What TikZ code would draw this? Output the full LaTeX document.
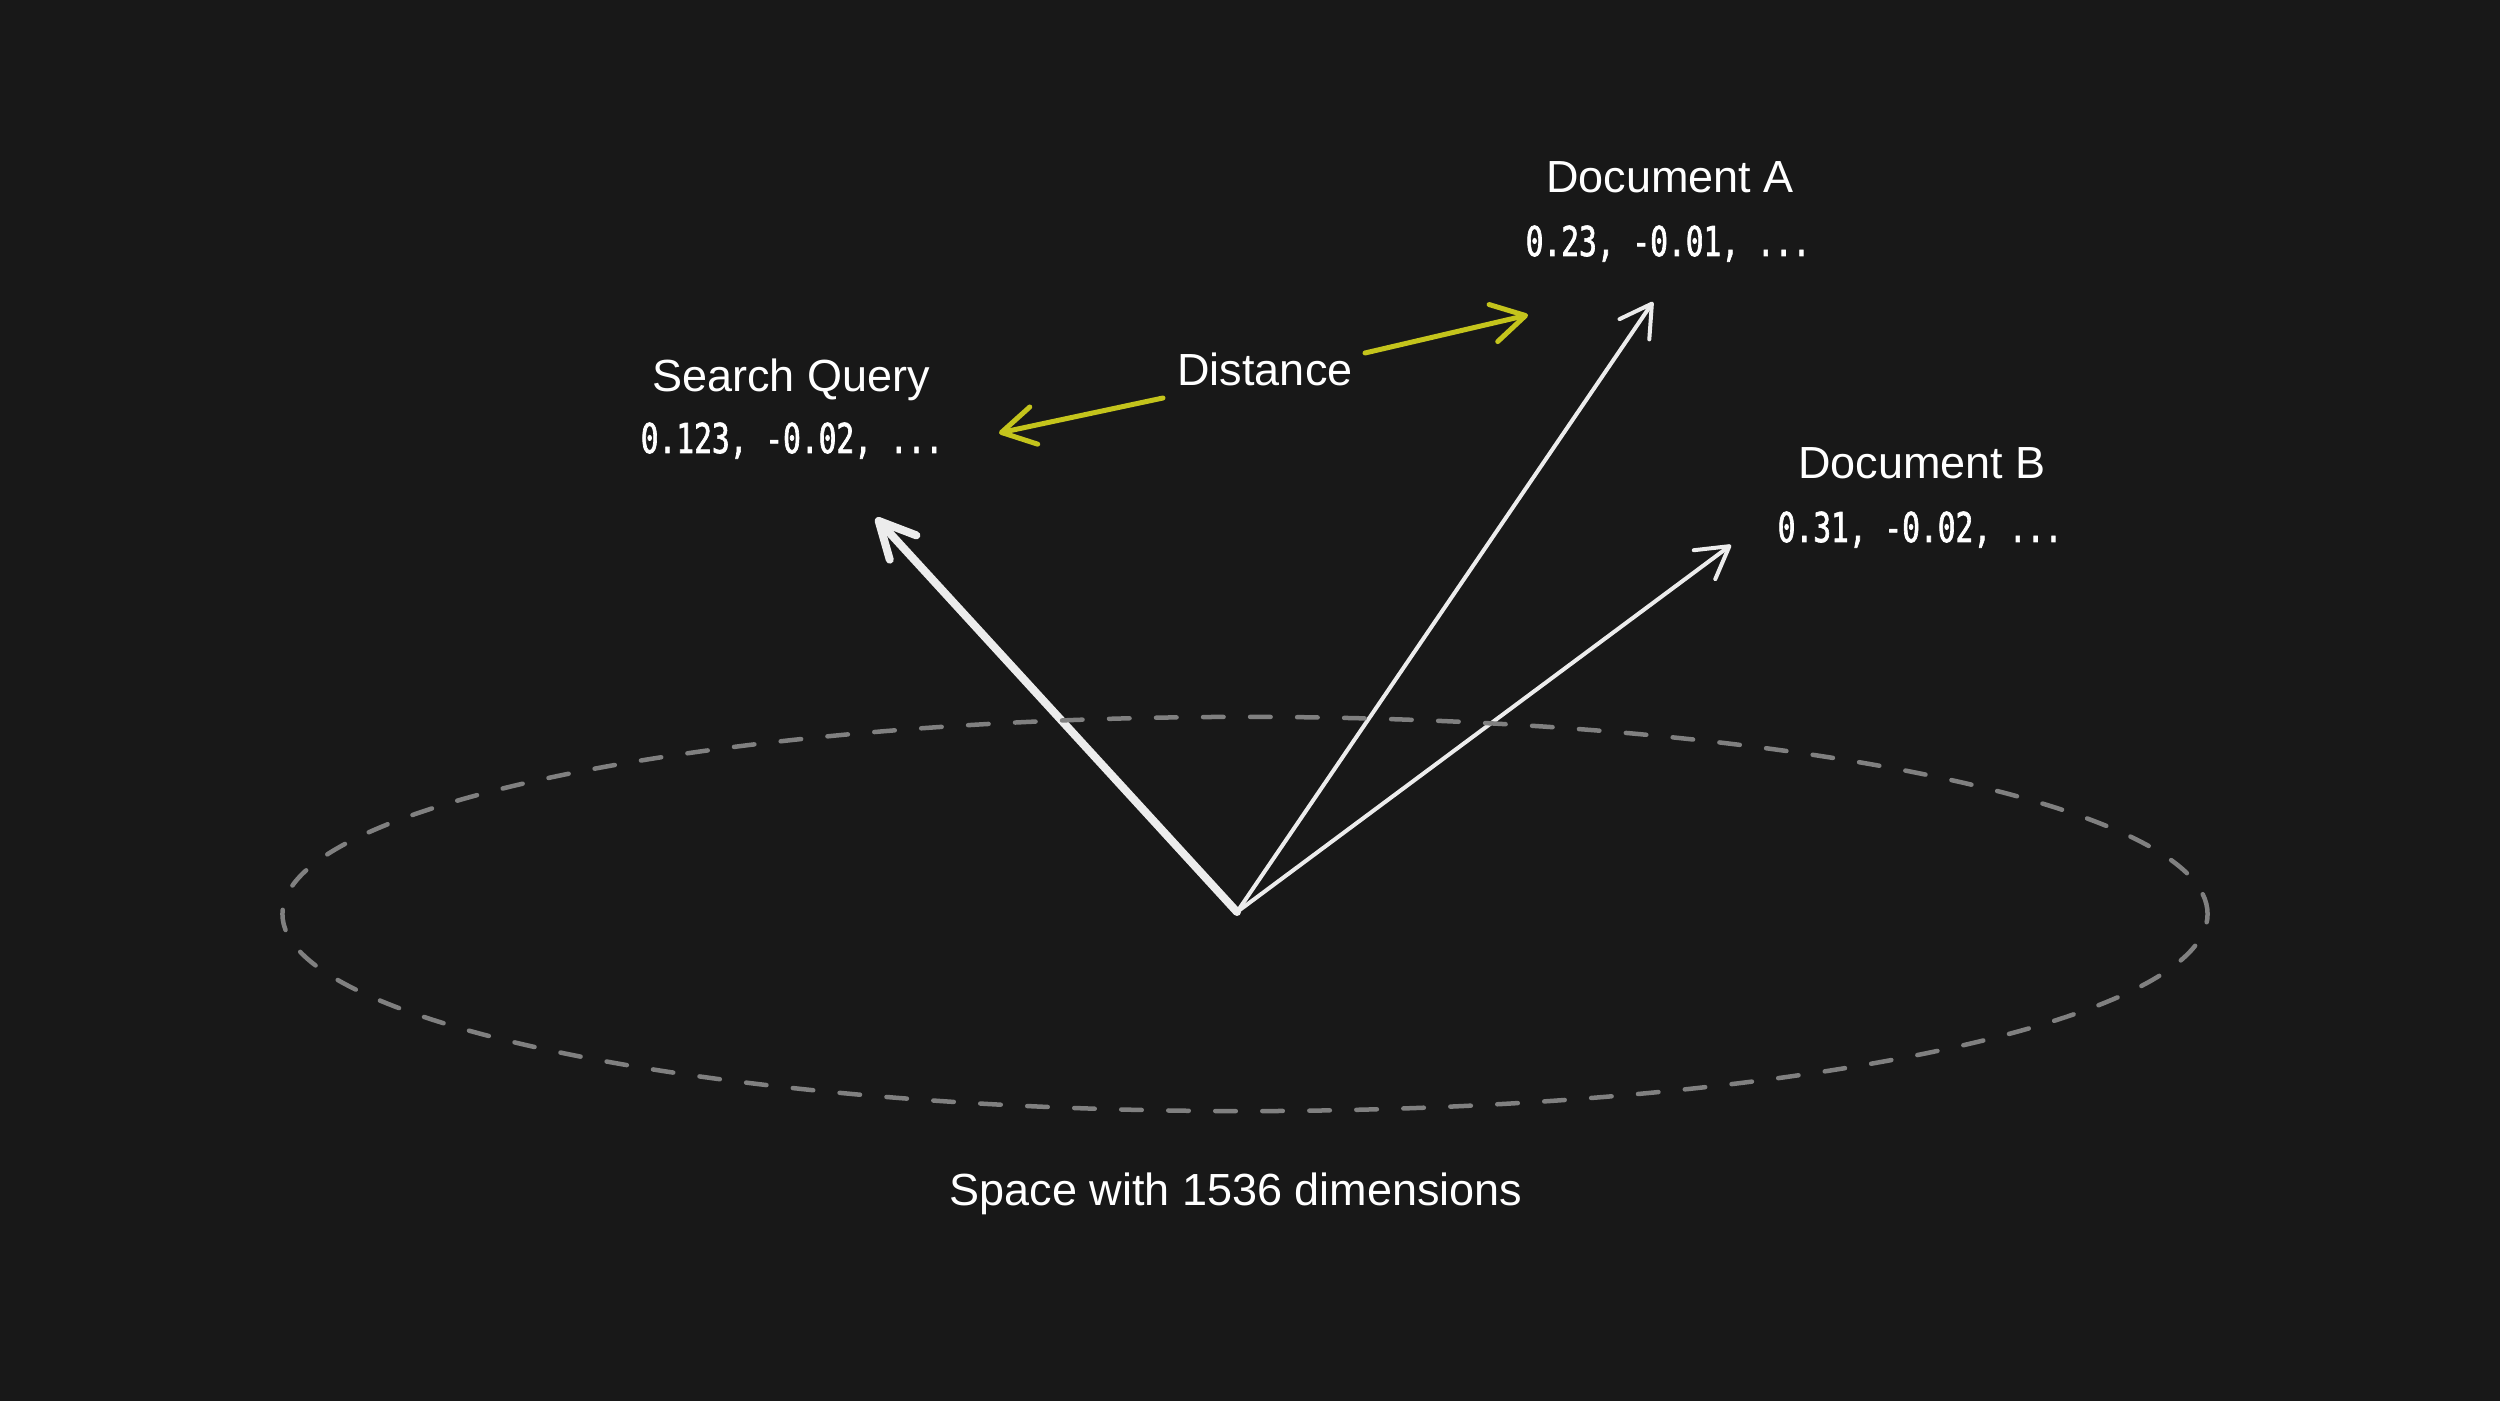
\documentclass[tikz,border=0pt]{standalone}
\usepackage{fontspec}
\setmainfont{Liberation Sans}
\newfontfamily\codefont[FakeStretch=0.72,FakeBold=1.6]{DejaVu Sans Mono}
\usetikzlibrary{arrows.meta}
\definecolor{bg}{RGB}{24,24,24}
\definecolor{fg}{RGB}{236,236,236}
\definecolor{dashgray}{RGB}{128,128,128}
\definecolor{distyellow}{RGB}{196,196,28}
\begin{document}
\begin{tikzpicture}[x=0.01cm,y=-0.01cm,
  lbl/.style={text=white, anchor=base, inner sep=0pt, font=\fontsize{12.8pt}{15pt}\selectfont},
  code/.style={text=white, anchor=base, inner sep=0pt, font=\codefont\fontsize{11.67pt}{14pt}\selectfont},
  vec/.style={draw=fg, line width=0.04cm, line cap=round, line join=round,
    -{Straight Barb[length=0.31cm,width=0.36cm,round]}},
  thickvec/.style={draw=fg, line width=0.08cm, line cap=round, line join=round,
    -{Straight Barb[length=0.36cm,width=0.36cm,round]}},
  dvec/.style={draw=distyellow, line width=0.05cm, line cap=round, line join=round,
    -{Straight Barb[length=0.33cm,width=0.38cm,round]}},
  space/.style={draw=dashgray, line width=0.045cm, line cap=round, dash pattern=on 0.205cm off 0.265cm}
]
\fill[bg] (0,0) rectangle (2500,1401);
\useasboundingbox (0,0) rectangle (2500,1401);

% text labels
\node[lbl] (qname) at (791,392) {Search Query};
\node[code] (qvec) at (792,453) {0.123, -0.02, ...};
\node[lbl] (aname) at (1670,193) {Document A};
\node[code] (avec) at (1668,256) {0.23, -0.01, ...};
\node[lbl] (bname) at (1922,479) {Document B};
\node[code] (bvec) at (1920,542) {0.31, -0.02, ...};
\node[lbl] (dist) at (1265,386) {Distance};
\node[lbl] (spacelbl) at (1236,1205) {Space with 1536 dimensions};

% coordinates
\coordinate (O) at (1237,912);
\coordinate (qtip) at (876,518);
\coordinate (atip) at (1653,302);
\coordinate (btip) at (1731,545);
\coordinate (d1s) at (1163,398);
\coordinate (d1e) at (999,433);
\coordinate (d2s) at (1365,353);
\coordinate (d2e) at (1528,315);

% vectors
\draw[thickvec] (O) -- (qtip);
\draw[vec] (O) -- (atip);
\draw[vec] (O) -- (btip);

% distance arrows
\draw[dvec] (d1s) -- (d1e);
\draw[dvec] (d2s) -- (d2e);

% space ellipse
\draw[space] (1245,914) ellipse [x radius=9.62cm, y radius=1.97cm];
\end{tikzpicture}
\end{document}
